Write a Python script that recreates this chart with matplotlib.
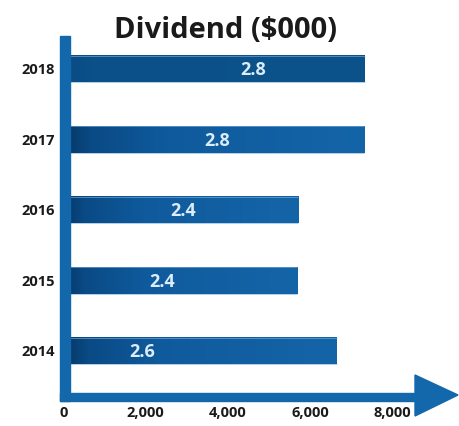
import numpy as np
import matplotlib
matplotlib.use("Agg")
import matplotlib.pyplot as plt
from matplotlib.colors import LinearSegmentedColormap
from matplotlib.patches import Rectangle, Polygon

# Data
years = ["2014", "2015", "2016", "2017", "2018"]
dividend = [6730, 5760, 5790, 7390, 7410]
bar_labels = ["2.6", "2.4", "2.4", "2.8", "2.8"]
xticks = [0, 2000, 4000, 6000, 8000]
xtick_labels = ["0", "2,000", "4,000", "6,000", "8,000"]

# Where each value label sits along its bar
label_x = [1990, 2480, 2990, 3815, 4690]

W, H = 459, 427
fig = plt.figure(figsize=(W / 100, H / 100), dpi=100)
fig.patch.set_facecolor("white")

# Axes: data zero at 60px, plot runs to the right edge
ax_left, ax_right = 60, 459
ax_top, ax_bottom = 37, 402
ax = fig.add_axes([ax_left / W, (H - ax_bottom) / H,
                   (ax_right - ax_left) / W, (ax_bottom - ax_top) / H])
ax.set_xlim(0, 9696)
ax.set_ylim(-0.709, 4.468)
ax.axis("off")

bar_h = 0.37
bars = ax.barh(range(len(years)), dividend, height=bar_h, color="#0e5a9a",
               zorder=2)

grad = LinearSegmentedColormap.from_list(
    "blue_grad", [(0.0, "#05345f"), (0.1, "#0a4a85"), (0.35, "#0f5a9c"),
                  (1.0, "#1465a8")])
grad_dark = LinearSegmentedColormap.from_list(
    "blue_dark", [(0.0, "#0a4a82"), (0.1, "#0b5089"), (1.0, "#0c528b")])
ramp = np.linspace(0, 1, 256).reshape(1, -1)
for i, b in enumerate(bars):
    x0, y0 = b.get_x(), b.get_y()
    cmap = grad_dark if years[i] == "2018" else grad
    ax.imshow(ramp, cmap=cmap, aspect="auto", zorder=3,
              extent=[x0, x0 + b.get_width(), y0, y0 + b.get_height()],
              interpolation="bicubic")
    # thin light rim along top and bottom edges
    for yy in (y0, y0 + b.get_height()):
        ax.plot([x0, x0 + b.get_width()], [yy, yy], color="#7fb0da",
                lw=0.6, alpha=0.7, zorder=4, solid_capstyle="butt")
    ax.text(label_x[i], i, bar_labels[i], ha="center", va="center",
            color="#dcedf9", fontsize=13, fontweight="bold",
            family="Open Sans", zorder=5)

# Year labels
for i, y in enumerate(years):
    ax.text(-120, i, y, ha="right", va="center", fontsize=10.5,
            fontweight="bold", family="Open Sans", color="#1a1a1a")

# X tick labels
for t, lab in zip(xticks, xtick_labels):
    ax.text(t + 80, -0.86, lab, ha="center", va="center", fontsize=10.5,
            fontweight="bold", family="Open Sans", color="#1a1a1a",
            clip_on=False)

# Axis bars and arrow, in pixel coordinates of the figure
axis_col = "#1367ab"
def px(x, y):
    return (x / W, (H - y) / H)

fig.patches.append(Rectangle(px(60, 402), 10 / W, 365 / H,
                             transform=fig.transFigure, color=axis_col,
                             zorder=6))
fig.patches.append(Rectangle(px(60, 402), 358 / W, 8 / H,
                             transform=fig.transFigure, color=axis_col,
                             zorder=6))
fig.patches.append(Polygon([px(415, 376), px(458, 396), px(415, 417)],
                           closed=True, transform=fig.transFigure,
                           color=axis_col, zorder=6))

fig.text(225 / W, (H - 30) / H, "Dividend ($000)", ha="center", va="center",
         fontsize=21, fontweight="bold", family="Open Sans", color="#1a1a1a")

fig.savefig("out.png", dpi=100)
